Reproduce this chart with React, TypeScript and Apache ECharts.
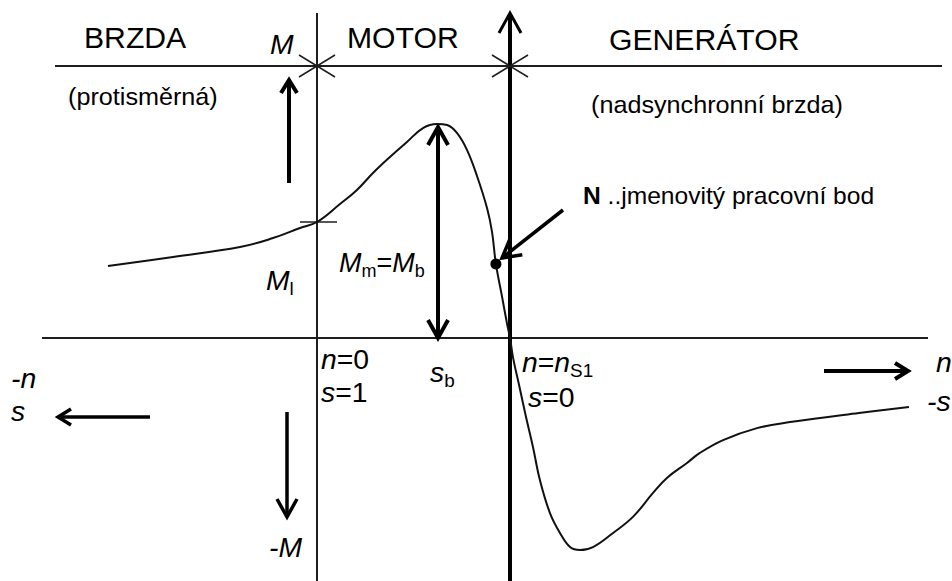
import React, { useEffect, useRef } from "react";
import * as echarts from "echarts";

const W = 952;
const H = 581;

// Torque–speed characteristic of the induction machine.
// speed: n / n_S1   (0 = standstill, 1 = synchronous speed)
// torque: M / M_b   (1 = pull-out torque in motor region)
const speed = [
  -1.083, -0.746, -0.399, -0.228, -0.088, 0.0, 0.119, 0.207, 0.29, 0.378, 0.466,
  0.549, 0.622, 0.674, 0.725, 0.777, 0.829, 0.881, 0.907, 0.927, 0.959, 0.984, 1.0,
  1.016, 1.047, 1.083, 1.119, 1.155, 1.207, 1.259, 1.311, 1.363, 1.43, 1.534, 1.637,
  1.741, 1.813, 1.917, 1.984, 2.104, 2.28, 2.451, 2.808, 3.067,
];
const torque = [
  0.336, 0.379, 0.425, 0.467, 0.514, 0.542, 0.626, 0.692, 0.771, 0.846, 0.916,
  0.981, 1.0, 0.995, 0.958, 0.879, 0.757, 0.607, 0.495, 0.346, 0.192, 0.07, 0.0,
  -0.093, -0.22, -0.369, -0.509, -0.664, -0.818, -0.911, -0.977, -0.991, -0.977, -0.911,
  -0.836, -0.724, -0.654, -0.584, -0.537, -0.477, -0.421, -0.393, -0.35, -0.322,
];
const ratedPoint = [0.927, 0.346]; // N
const startTorque = 0.542; // M_l at n = 0
const pullOutSpeed = 0.627; // s_b position

// Texts
const regionLabels = ["BRZDA", "MOTOR", "GENERÁTOR"];
const regionNotes = ["(protisměrná)", "(nadsynchronní brzda)"];
const pointNote = " ..jmenovitý pracovní bod";

// Layout (pixels)
const X0 = 317; // n = 0 line
const XS = 510; // n = n_S1 line
const Y0 = 338; // M = 0 line
const YB = 124; // M = M_b level
const UX = XS - X0;
const UY = Y0 - YB;
const toPx = (x: number) => X0 + x * UX;
const toPy = (y: number) => Y0 - y * UY;

const FAM = '"Liberation Sans", Arial, Helvetica, sans-serif';
const INK = "#000";
const LINE = "#1e1e1e";

const rich: any = {
  i: { fontFamily: FAM, fontSize: 27, fontStyle: "italic", lineHeight: 34, fill: INK },
  r: { fontFamily: FAM, fontSize: 27, lineHeight: 34, fill: INK },
  sub: { fontFamily: FAM, fontSize: 18, lineHeight: 18, verticalAlign: "bottom", fill: INK },
  bn: { fontFamily: FAM, fontSize: 23, fontWeight: "bold", lineHeight: 28, fill: INK },
  t: { fontFamily: FAM, fontSize: 23, lineHeight: 28, fill: INK },
};

function label(text: string, x: number, y: number, size: number, sx = 1.05, useRich = false) {
  return {
    type: "text",
    x,
    y,
    scaleX: sx,
    z: 30,
    silent: true,
    style: useRich
      ? { text, x: 0, y: 0, rich, align: "left", verticalAlign: "middle", fill: INK }
      : {
          text,
          x: 0,
          y: 0,
          fill: INK,
          fontFamily: FAM,
          fontSize: size,
          align: "left",
          verticalAlign: "middle",
        },
  };
}

function seg(x1: number, y1: number, x2: number, y2: number, lw: number, color = LINE) {
  return {
    type: "line",
    z: 5,
    silent: true,
    shape: { x1, y1, x2, y2 },
    style: { stroke: color, lineWidth: lw },
  };
}

function head(tx: number, ty: number, fx: number, fy: number, lw: number, len: number, half: number) {
  const dx = tx - fx;
  const dy = ty - fy;
  const L = Math.hypot(dx, dy);
  const ux = dx / L;
  const uy = dy / L;
  const bx = tx - ux * len;
  const by = ty - uy * len;
  return {
    type: "polyline",
    z: 6,
    silent: true,
    shape: {
      points: [
        [bx - uy * half, by + ux * half],
        [tx, ty],
        [bx + uy * half, by - ux * half],
      ],
    },
    style: { stroke: INK, fill: null, lineWidth: lw, lineJoin: "miter" },
  };
}

function arrow(x1: number, y1: number, x2: number, y2: number, lw: number, len = 14, half = 8, both = false) {
  const els: any[] = [seg(x1, y1, x2, y2, lw, INK), head(x2, y2, x1, y1, lw, len, half)];
  if (both) els.push(head(x1, y1, x2, y2, lw, len, half));
  return els;
}

function star(cx: number, cy: number) {
  return [seg(cx - 18, cy - 11, cx + 18, cy + 11, 1.5), seg(cx - 18, cy + 11, cx + 18, cy - 11, 1.5)];
}

export default function App() {
  const ref = useRef<HTMLDivElement>(null);

  useEffect(() => {
    if (!ref.current) return;
    const chart = echarts.init(ref.current, null, { renderer: "svg", width: W, height: H });
    const topY = 66;
    const mlY = toPy(startTorque);
    const sbX = toPx(pullOutSpeed);

    const graphics: any[] = [
      // frame lines
      seg(55, topY, 942, topY, 2),
      seg(42, Y0, 928, Y0, 2),
      seg(X0, 13, X0, H, 2),
      seg(XS, 14, XS, H, 4, INK),
      head(XS, 13, XS, 60, 3, 20, 11),
      ...star(X0, topY),
      ...star(XS, topY),
      seg(X0 - 17, mlY, X0 + 20, mlY, 1.5),
      // arrows
      ...arrow(289, 183, 289, 80, 4, 13, 8),
      ...arrow(287, 412, 287, 517, 3.5, 18, 10),
      ...arrow(150, 417, 58, 417, 3.5, 13, 8),
      ...arrow(824, 371, 908, 371, 4, 13, 8),
      ...arrow(sbX, Y0, sbX, YB + 3, 4, 18, 10, true),
      ...arrow(563, 210, 502, 258, 3.5, 18, 10),
      // texts
      label(regionLabels[0], 84, 38, 29, 1.04),
      label(regionLabels[1], 347, 38, 29, 1.04),
      label(regionLabels[2], 609, 40, 29, 1.04),
      label(regionNotes[0], 68, 97, 24, 1.05),
      label(regionNotes[1], 591, 105, 24, 1.05),
      label("{bn|N}{t|" + pointNote + "}", 583, 196, 23, 1.07, true),
      label("{i|M}", 270, 45, 27, 1.05, true),
      label("{i|M}{sub|l}", 266, 281, 27, 1.05, true),
      label("{i|M}{sub|m}{r|=}{i|M}{sub|b}", 339, 263, 27, 1.0, true),
      label("{i|-M}", 269, 548, 27, 1.05, true),
      label("{i|-n}", 11, 379, 27, 1.05, true),
      label("{i|s}", 11, 412, 27, 1.05, true),
      label("{i|n}{r|=0}", 321, 360, 27, 1.05, true),
      label("{i|s}{r|=1}", 321, 393, 27, 1.05, true),
      label("{i|s}{sub|b}", 430, 373, 27, 1.05, true),
      label("{i|n}{r|=}{i|n}{sub|S1}", 522, 363, 27, 1.05, true),
      label("{i|s}{r|=0}", 528, 398, 27, 1.05, true),
      label("{i|n}", 936, 363, 27, 1.05, true),
      label("{i|-s}", 927, 402, 27, 1.05, true),
    ];

    chart.setOption({
      animation: false,
      backgroundColor: "#fff",
      grid: { left: 0, right: 0, top: 0, bottom: 0, containLabel: false },
      xAxis: { type: "value", min: -X0 / UX, max: (W - X0) / UX, show: false },
      yAxis: { type: "value", min: -(H - Y0) / UY, max: Y0 / UY, show: false },
      series: [
        {
          type: "line",
          data: speed.map((x, i) => [x, torque[i]]),
          smooth: 0.4,
          symbol: "none",
          lineStyle: { color: "#111", width: 2 },
          z: 10,
          silent: true,
        },
        {
          type: "scatter",
          data: [ratedPoint],
          symbol: "circle",
          symbolSize: 11,
          itemStyle: { color: "#000", opacity: 1 },
          z: 12,
          silent: true,
        },
      ],
      graphic: { elements: graphics },
    });
    return () => chart.dispose();
  }, []);

  return (
    <div
      ref={ref}
      style={{ position: "absolute", left: 0, top: 0, width: W, height: H, background: "#fff" }}
    />
  );
}
